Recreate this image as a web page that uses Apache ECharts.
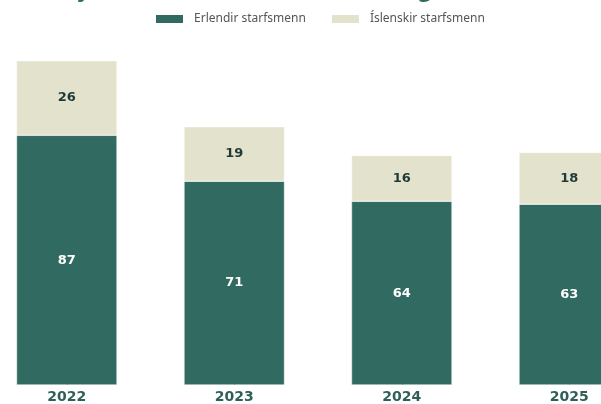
<!DOCTYPE html>
<html>
<head>
<meta charset="utf-8">
<script src="https://cdn.jsdelivr.net/npm/echarts@6/dist/echarts.min.js"></script>
<style>
  html, body { margin: 0; padding: 0; background: #fff; overflow: hidden; }
  #wrap { width: 601px; height: 404px; overflow: hidden; position: relative; }
  #chart { width: 670px; height: 404px; position: absolute; left: -17px; top: 0; }
</style>
</head>
<body>
<div id="wrap"><div id="chart"></div></div>
<script>
// ár og fjöldi starfsmanna
var years = ['2022', '2023', '2024', '2025'];
var erlendir = [87, 71, 64, 63];
var islenskir = [26, 19, 16, 18];

var chart = echarts.init(document.getElementById('chart'), null, { renderer: 'canvas' });

var option = {
    animation: false,
    title: {
        text: 'Fjöldi starfsmanna í Hamborg 2022-2025',
        left: 'center',
        top: -24,
        textStyle: {
            fontFamily: 'DejaVu Sans',
            fontWeight: 'bold',
            fontSize: 22,
            color: '#2f6b61'
        }
    },
    legend: {
        top: 8,
        left: 166,
        itemWidth: 29,
        itemHeight: 10,
        itemGap: 24,
        icon: 'rect',
        textStyle: {
            fontFamily: 'Noto Sans',
            fontSize: 12,
            color: '#555',
            padding: [0, 0, 0, 5]
        },
        data: ['Erlendir starfsmenn', 'Íslenskir starfsmenn']
    },
    grid: {
        left: 0,
        right: 0,
        top: 40.6,
        bottom: 19
    },
    xAxis: {
        type: 'category',
        data: years,
        axisLine: { show: false },
        axisTick: {
            show: true,
            alignWithLabel: true,
            inside: true,
            length: 4,
            lineStyle: { color: '#1f3a36' }
        },
        axisLabel: {
            margin: 5,
            fontFamily: 'DejaVu Sans',
            fontWeight: 'bold',
            fontSize: 14,
            color: '#2f5f57'
        }
    },
    yAxis: {
        type: 'value',
        min: 0,
        max: 120,
        show: false,
        splitLine: { show: false }
    },
    series: [
        {
            name: 'Erlendir starfsmenn',
            type: 'bar',
            stack: 'total',
            barWidth: '60%',
            data: erlendir,
            itemStyle: { color: '#306a60', borderColor: '#fff', borderWidth: 0.5 },
            label: {
                show: true,
                position: 'inside',
                fontFamily: 'DejaVu Sans',
                fontWeight: 'bold',
                fontSize: 13,
                color: '#fff'
            },
            z: 3
        },
        {
            name: 'Íslenskir starfsmenn',
            type: 'bar',
            stack: 'total',
            barWidth: '60%',
            data: islenskir,
            itemStyle: { color: '#e3e2cd', borderColor: '#fff', borderWidth: 0.5 },
            label: {
                show: true,
                position: 'inside',
                fontFamily: 'DejaVu Sans',
                fontWeight: 'bold',
                fontSize: 13,
                color: '#1f3a36'
            },
            z: 3
        }
    ]
};

chart.setOption(option);
</script>
</body>
</html>
